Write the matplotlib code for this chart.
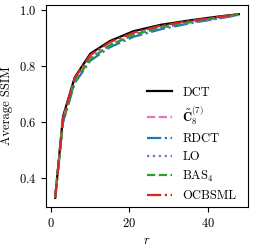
import matplotlib
matplotlib.use("Agg")
import matplotlib.pyplot as plt

plt.rcParams['font.family'] = 'serif'
plt.rcParams['font.serif'] = ['cmr10']
plt.rcParams['mathtext.fontset'] = 'cm'
plt.rcParams['axes.formatter.use_mathtext'] = True
plt.rcParams['axes.unicode_minus'] = False

r = [1, 3, 6, 10, 15, 21, 28, 36, 43, 48]
dct = [0.33, 0.62, 0.76, 0.845, 0.89, 0.925, 0.948, 0.965, 0.978, 0.986]
c8 = [0.33, 0.61, 0.75, 0.83, 0.875, 0.912, 0.937, 0.958, 0.973, 0.984]
rdct = [0.33, 0.60, 0.74, 0.82, 0.868, 0.905, 0.932, 0.955, 0.971, 0.983]
lo = [0.33, 0.61, 0.75, 0.83, 0.876, 0.913, 0.938, 0.958, 0.973, 0.984]
bas4 = [0.33, 0.60, 0.745, 0.825, 0.875, 0.912, 0.940, 0.960, 0.975, 0.985]
ocbsml = [0.33, 0.615, 0.758, 0.84, 0.886, 0.920, 0.945, 0.963, 0.977, 0.986]

labels = ['DCT', r'$\tilde{\mathbf{C}}_8^{(7)}$', 'RDCT', 'LO', r'BAS$_4$', 'OCBSML']
series = [dct, c8, rdct, lo, bas4, ocbsml]
colors = ['black', '#e377c2', '#1f77b4', '#9467bd', '#2ca02c', '#d62728']
styles = ['-', '--', '-.', ':', '--', '-.']

fig = plt.figure(figsize=(2.56, 2.49), dpi=100)
ax = fig.add_axes([46/256, 1 - 207/249, (248-46)/256, (207-5)/249])
for y, lab, c, ls in zip(series, labels, colors, styles):
    ax.plot(r, y, color=c, linestyle=ls, linewidth=1.6, label=lab)

ax.set_xticks([0, 20, 40])
ax.set_yticks([0.4, 0.6, 0.8, 1.0])
ax.tick_params(labelsize=9, direction='out', length=3.5)
ax.set_xlabel(r'$r$', fontsize=9)
ax.set_ylabel('Average SSIM', fontsize=9)
ax.legend(loc='lower right', frameon=False, fontsize=9, handlelength=2.0,
          labelspacing=0.47, borderaxespad=0.2, bbox_to_anchor=(0.98, -0.012))
fig.savefig('out.png', dpi=100)
